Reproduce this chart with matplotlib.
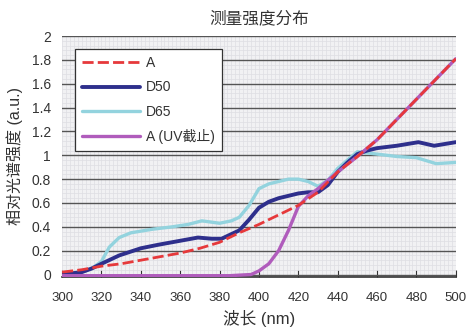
import numpy as np
import matplotlib.pyplot as plt
from matplotlib.ticker import MultipleLocator

plt.rcParams['font.family'] = ['Liberation Sans', 'Noto Sans CJK SC', 'DejaVu Sans']

# wavelength grids and readings (nm, a.u.)
wl_a = [300, 310, 320, 330, 340, 350, 360, 370, 380, 390, 400, 410, 420, 430, 440,
        450, 460, 470, 480, 490, 500]
a = [0.02, 0.04, 0.07, 0.09, 0.12, 0.15, 0.18, 0.22, 0.27, 0.35, 0.42, 0.50, 0.58, 0.69, 0.86,
     0.99, 1.13, 1.30, 1.47, 1.64, 1.81]

wl_d50 = [300, 310, 315, 320, 329, 340, 349, 359, 369, 376, 381, 390, 395, 400, 405, 410,
          415, 420, 425, 430, 435, 440, 445, 450, 455, 460, 470, 481, 489, 500]
d50 = [0.0, 0.02, 0.05, 0.09, 0.16, 0.22, 0.25, 0.28, 0.31, 0.30, 0.30, 0.37, 0.46, 0.56, 0.61, 0.64,
       0.66, 0.68, 0.69, 0.69, 0.75, 0.86, 0.94, 1.01, 1.04, 1.06, 1.08, 1.11, 1.08, 1.11]

wl_d65 = [300, 310, 315, 320, 324, 329, 335, 346, 356, 364, 371, 380, 386, 390, 395, 400,
          405, 410, 415, 420, 425, 430, 435, 440, 450, 460, 470, 480, 490, 500]
d65 = [0.0, 0.02, 0.05, 0.11, 0.23, 0.31, 0.35, 0.38, 0.40, 0.42, 0.45, 0.43, 0.45, 0.48, 0.58, 0.72,
       0.76, 0.78, 0.80, 0.80, 0.78, 0.74, 0.79, 0.89, 1.03, 1.01, 0.99, 0.98, 0.93, 0.94]

wl_uv = [300, 385, 396, 400, 405, 410, 415, 420, 425, 430, 440, 450, 460, 470, 480, 490, 500]
a_uv = [-0.01, -0.01, 0.0, 0.03, 0.09, 0.20, 0.37, 0.57, 0.66, 0.72, 0.86, 0.99, 1.13, 1.30, 1.47,
        1.64, 1.81]

fig = plt.figure(figsize=(4.67, 3.34), dpi=100)
ax = fig.add_axes([0.133, 0.171, 0.843, 0.721])
ax.set_facecolor('#f1f1f3')

kw = dict(solid_joinstyle='round', solid_capstyle='round')
ax.plot(wl_d65, d65, color='#93d3de', lw=2.4, label='D65', zorder=3, **kw)
ax.plot(wl_d50, d50, color='#2e2f8c', lw=2.8, label='D50', zorder=4, **kw)
ax.plot(wl_uv, a_uv, color='#b05cbc', lw=2.4, label='A (UV截止)', zorder=5, **kw)
ax.plot(wl_a, a, color='#e6393b', lw=2, ls=(0, (4, 1.5)), label='A', zorder=6,
        dash_joinstyle='round')

ax.set_xlim(300, 500)
ax.set_ylim(-0.02, 2.0)
ax.xaxis.set_major_locator(MultipleLocator(20))
ax.yaxis.set_major_locator(MultipleLocator(0.2))
ax.yaxis.set_major_formatter(plt.FuncFormatter(lambda v, p: '%g' % round(v, 1)))
ax.xaxis.set_minor_locator(MultipleLocator(2))
ax.yaxis.set_minor_locator(MultipleLocator(0.04))
ax.grid(which='minor', color='#dedee3', lw=0.5)
ax.grid(which='major', axis='y', color='#555555', lw=1)
ax.grid(which='major', axis='x', color='#dedee3', lw=0.5)
ax.set_axisbelow(True)

for s in ['top', 'left', 'right']:
    ax.spines[s].set_visible(False)
ax.spines['bottom'].set_color('#333333')
ax.spines['bottom'].set_linewidth(1.2)
ax.tick_params(axis='x', which='major', direction='in', length=5, color='#333333',
               labelsize=9.5, labelcolor='#333333', pad=11)
ax.tick_params(axis='y', which='major', length=0, labelsize=10, labelcolor='#333333', pad=8)
ax.tick_params(which='minor', length=0)

ax.set_title('测量强度分布', fontsize=12, color='#333333', pad=9)
ax.set_xlabel('波长 (nm)', fontsize=12, color='#333333', labelpad=4)
ax.set_ylabel('相对光谱强度 (a.u.)', fontsize=11.5, color='#333333', labelpad=6)

h, l = ax.get_legend_handles_labels()
order = [3, 1, 0, 2]
leg = ax.legend([h[i] for i in order], [l[i] for i in order], loc='upper left',
                bbox_to_anchor=(0.015, 0.975), fancybox=False, framealpha=1,
                edgecolor='#333333', fontsize=10, handlelength=4.2,
                labelspacing=0.75, borderpad=0.5, handletextpad=0.4)
leg.get_frame().set_linewidth(0.9)
for t in leg.get_texts():
    t.set_color('#333333')

fig.savefig('out.png', dpi=100)
